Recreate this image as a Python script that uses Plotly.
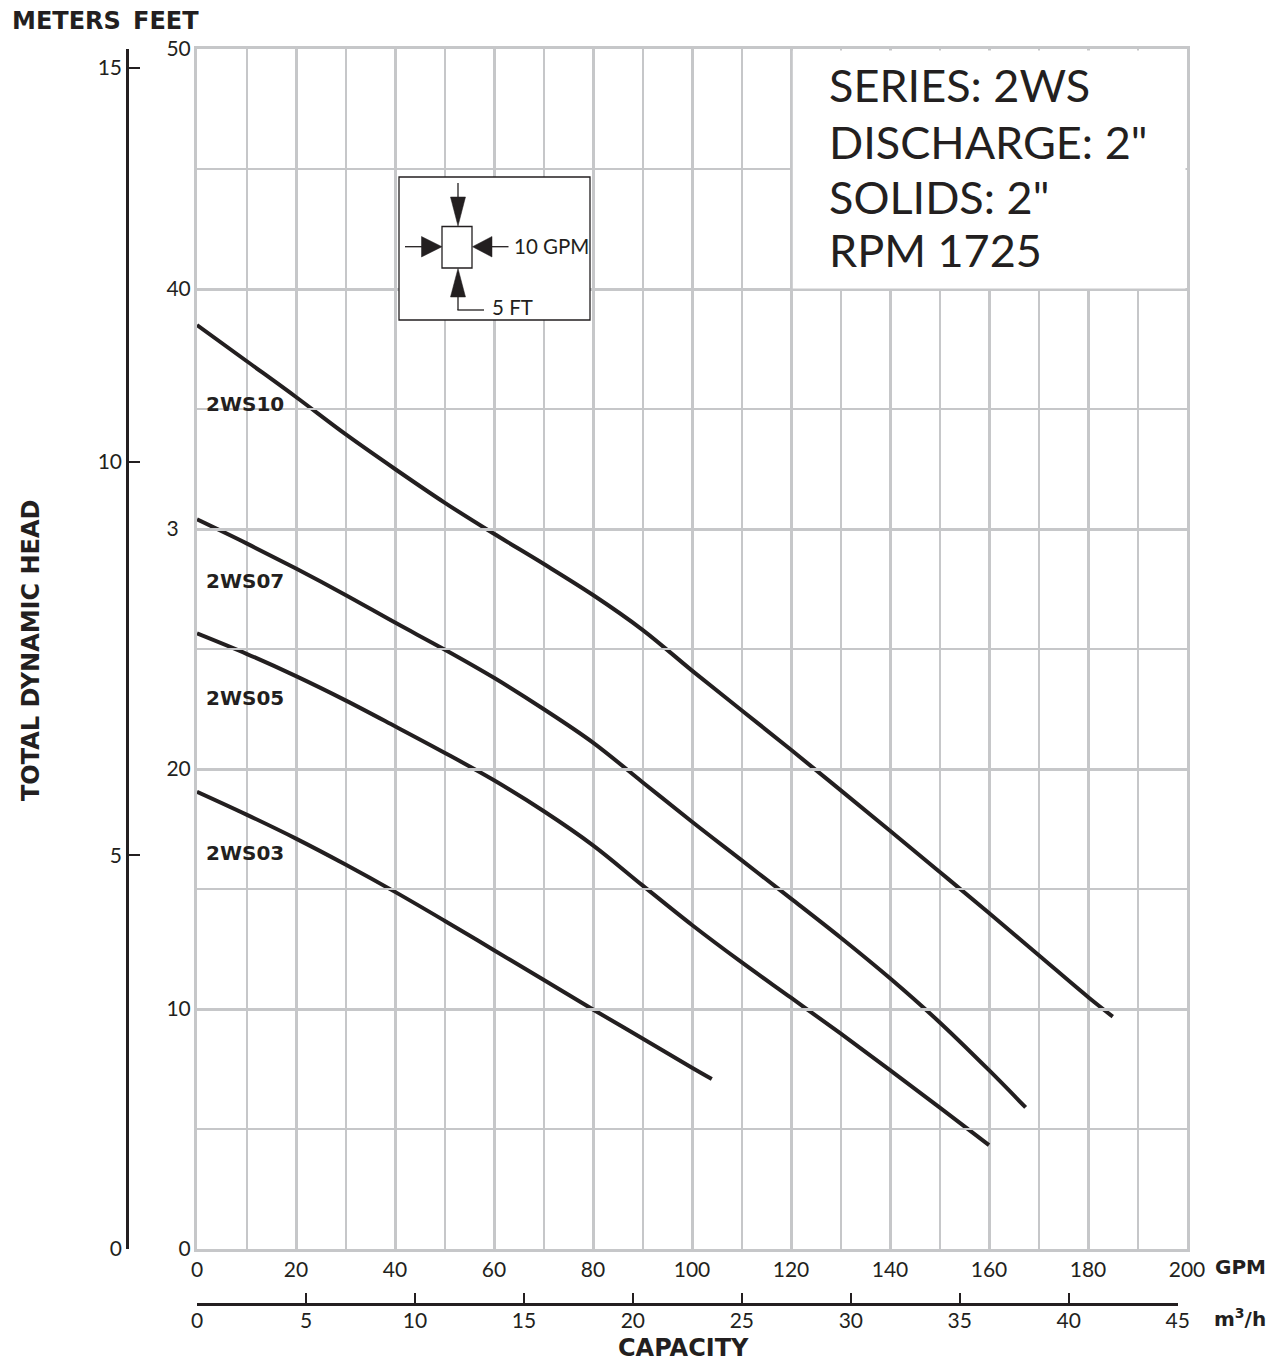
import plotly.graph_objects as go

# ---------------- data ----------------
gpm_2ws10 = [0, 10, 20, 30, 40, 50, 60, 70, 80, 90, 100, 110, 120, 130, 140, 150, 160, 170, 180, 185]
head_2ws10 = [38.5, 37.0, 35.5, 33.95, 32.5, 31.1, 29.8, 28.55, 27.25, 25.8, 24.1, 22.45, 20.8, 19.12, 17.43, 15.72, 14.0, 12.25, 10.5, 9.68]

gpm_2ws07 = [0, 10, 20, 30, 40, 50, 60, 70, 80, 90, 100, 110, 120, 130, 140, 150, 160, 167.4]
head_2ws07 = [30.4, 29.4, 28.35, 27.25, 26.1, 24.98, 23.8, 22.5, 21.1, 19.45, 17.8, 16.2, 14.6, 12.98, 11.28, 9.45, 7.45, 5.9]

gpm_2ws05 = [0, 10, 20, 30, 40, 50, 60, 70, 80, 90, 100, 110, 120, 130, 140, 150, 160]
head_2ws05 = [25.65, 24.8, 23.87, 22.86, 21.78, 20.68, 19.53, 18.25, 16.82, 15.15, 13.5, 11.95, 10.47, 8.98, 7.45, 5.9, 4.33]

gpm_2ws03 = [0, 10, 20, 30, 40, 50, 60, 70, 80, 90, 100, 104]
head_2ws03 = [19.05, 18.1, 17.1, 16.02, 14.88, 13.68, 12.45, 11.22, 9.98, 8.77, 7.55, 7.08]

series_names = ["2WS10", "2WS07", "2WS05", "2WS03"]
label_heads = [35.2, 27.83, 22.94, 16.5]

gpm_ticks = [0, 20, 40, 60, 80, 100, 120, 140, 160, 180, 200]
feet_ticks = [0, 10, 20, 30, 40, 50]
feet_ticktext = ["0", "10", "20", "3<span style='color:white'>0</span>", "40", "50"]
meter_ticks = [0, 5, 10, 15]
m3h_ticks = [0, 5, 10, 15, 20, 25, 30, 35, 40, 45]

info_lines = ["SERIES: 2WS", "DISCHARGE: 2\"", "SOLIDS: 2\"", "RPM 1725"]

FT_PER_M = 3.28084
GPM_PER_M3H = 4.40287

# ---------------- layout helpers ----------------
# the page body has an 8px margin, so the figure is made 16px smaller
# and every reference pixel position is shifted by 8px
OFF = 8
W, H = 1270, 1353
def px(x):
    return (x - OFF) / W
def py(y):
    return (H - (y - OFF)) / H

INK = "#231f20"
GRID = "#c6c7c9"
REG = "Lato"
BOLDFAM = "DejaVu Sans"

X0, X1 = 197, 1187
Y0, Y1 = 1249, 49

fig = go.Figure()

for g, h in [(gpm_2ws10, head_2ws10), (gpm_2ws07, head_2ws07),
             (gpm_2ws05, head_2ws05), (gpm_2ws03, head_2ws03)]:
    fig.add_trace(go.Scatter(x=g, y=h, mode="lines",
                             line=dict(color=INK, width=4, shape="spline", smoothing=1.0),
                             showlegend=False, hoverinfo="skip"))

# invisible traces to activate the secondary axes
fig.add_trace(go.Scatter(x=[0], y=[0], xaxis="x2", yaxis="y", mode="markers",
                         marker=dict(opacity=0), showlegend=False, hoverinfo="skip"))
fig.add_trace(go.Scatter(x=[0], y=[0], xaxis="x", yaxis="y2", mode="markers",
                         marker=dict(opacity=0), showlegend=False, hoverinfo="skip"))

xdom = [px(X0), px(X1)]
ydom = [py(Y0), py(Y1)]
m3h_end_px = X0 + 45 * GPM_PER_M3H * (X1 - X0) / 200.0

fig.update_layout(
    width=W, height=H,
    margin=dict(l=0, r=0, t=0, b=0, autoexpand=False),
    paper_bgcolor="white", plot_bgcolor="rgba(0,0,0,0)",
    font=dict(family=REG, color=INK, size=21),
    xaxis=dict(domain=xdom, range=[0, 200], tickvals=gpm_ticks, ticks="",
               showgrid=True, gridcolor=GRID, gridwidth=3,
               minor=dict(dtick=10, showgrid=True, gridcolor=GRID, gridwidth=1.5),
               showline=True, linecolor=GRID, linewidth=3, mirror=True,
               zeroline=False, tickfont=dict(family=REG, size=21, color=INK),
               ticklabelstandoff=0, fixedrange=True),
    yaxis=dict(domain=ydom, range=[0, 50], tickvals=feet_ticks, ticktext=feet_ticktext, ticks="",
               showgrid=True, gridcolor=GRID, gridwidth=3,
               minor=dict(dtick=5, showgrid=True, gridcolor=GRID, gridwidth=1.5),
               showline=True, linecolor=GRID, linewidth=3, mirror=True,
               zeroline=False, tickfont=dict(family=REG, size=21, color=INK),
               ticklabelstandoff=-1, fixedrange=True),
    xaxis2=dict(domain=[px(X0), px(m3h_end_px)], range=[0, 45], tickvals=m3h_ticks,
                anchor="free", position=py(1304), side="bottom",
                ticks="inside", ticklen=10, tickwidth=2, tickcolor=INK,
                showline=True, linecolor=INK, linewidth=2.5,
                showgrid=False, zeroline=False, ticklabelstandoff=-3,
                tickfont=dict(family=REG, size=21, color=INK), fixedrange=True),
    yaxis2=dict(overlaying="y", anchor="free", position=px(127), side="left",
                range=[0, 50 / FT_PER_M], tickvals=meter_ticks,
                ticks="inside", ticklen=11, tickwidth=2, tickcolor=INK,
                showline=True, linecolor=INK, linewidth=2.5,
                showgrid=False, zeroline=False,
                tickfont=dict(family=REG, size=21, color=INK), fixedrange=True),
)

shapes = []
# white panel behind the series info
shapes.append(dict(type="rect", xref="paper", yref="paper",
                   x0=px(792.8), x1=px(1185.5), y0=py(288.5), y1=py(50.5),
                   fillcolor="white", line=dict(width=0), layer="above"))
# scale inset box
shapes.append(dict(type="rect", xref="paper", yref="paper",
                   x0=px(399), x1=px(590), y0=py(320), y1=py(177),
                   fillcolor="white", line=dict(color=INK, width=1.3), layer="above"))
# small square
shapes.append(dict(type="rect", xref="paper", yref="paper",
                   x0=px(442), x1=px(472), y0=py(268), y1=py(226.5),
                   fillcolor="white", line=dict(color=INK, width=1.3), layer="above"))

def seg(x0, y0, x1, y1, w=1.3):
    shapes.append(dict(type="line", xref="paper", yref="paper",
                       x0=px(x0), y0=py(y0), x1=px(x1), y1=py(y1),
                       line=dict(color=INK, width=w), layer="above"))

def tri(pts):
    path = "M " + " L ".join(f"{px(a):.6f},{py(b):.6f}" for a, b in pts) + " Z"
    shapes.append(dict(type="path", xref="paper", yref="paper", path=path,
                       fillcolor=INK, line=dict(color=INK, width=0.5), layer="above"))

# top arrow (down)
seg(458, 183, 458, 198)
tri([(450.5, 197), (465.5, 197), (458, 226)])
# left arrow (right)
seg(405, 246.7, 423, 246.7)
tri([(421.5, 236.5), (421.5, 257), (442, 246.7)])
# right arrow (left)
seg(490, 246.7, 508.5, 246.7)
tri([(492, 236.5), (492, 257), (472.5, 246.7)])
# bottom arrow (up)
seg(458, 295, 458, 310)
tri([(450.5, 297), (465.5, 297), (458, 268.5)])
seg(457.4, 310, 484, 310)

fig.update_layout(shapes=shapes)

ann = []
def text(x, y, s, size, family=REG, xanchor="left", yanchor="middle", angle=0):
    ann.append(dict(xref="paper", yref="paper", x=px(x), y=py(y), text=s,
                    showarrow=False, xanchor=xanchor, yanchor=yanchor, textangle=angle,
                    font=dict(family=family, size=size, color=INK)))

text(10, 21, "<b>METERS</b>", 24, BOLDFAM)
text(131, 21, "<b>FEET</b>", 24, BOLDFAM)
text(31, 651, "<b>TOTAL DYNAMIC HEAD</b>", 24, BOLDFAM, xanchor="center", angle=-90)
text(683, 1348, "<b>CAPACITY</b>", 24, BOLDFAM, xanchor="center")
text(1213, 1267, "<b>GPM</b>", 20, BOLDFAM)
text(1212, 1318, "<b>m<sup>3</sup>/h</b>", 20, BOLDFAM)

for i, s in enumerate(info_lines):
    text(827, [85.5, 141.7, 196.7, 250.3][i], s, 45)

text(512, 246, "10 GPM", 20.5)
text(489.5, 307, "5 FT", 20.5)

for name, hd in zip(series_names, label_heads):
    ann.append(dict(xref="x", yref="y", x=1.4, y=hd, text=f"<b>{name}</b>",
                    showarrow=False, xanchor="left", yanchor="middle",
                    font=dict(family=BOLDFAM, size=20, color=INK)))

fig.update_layout(annotations=ann)

fig.write_html("out.html")
